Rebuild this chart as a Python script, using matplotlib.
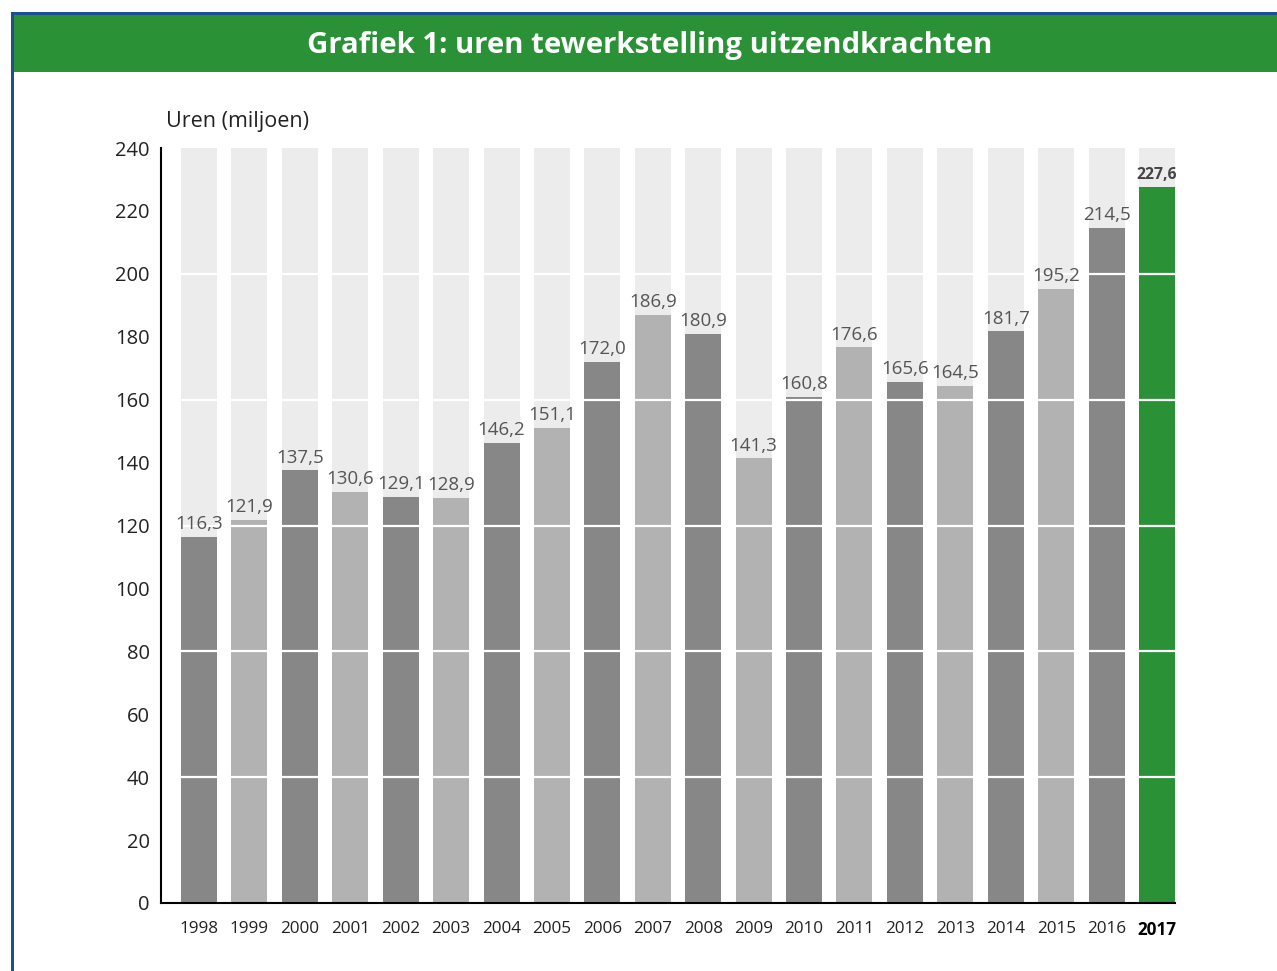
import matplotlib
matplotlib.use("Agg")
import matplotlib.pyplot as plt
from matplotlib.patches import Rectangle

years = ["1998", "1999", "2000", "2001", "2002", "2003", "2004", "2005", "2006", "2007",
         "2008", "2009", "2010", "2011", "2012", "2013", "2014", "2015", "2016", "2017"]
values = [116.3, 121.9, 137.5, 130.6, 129.1, 128.9, 146.2, 151.1, 172.0, 186.9,
          180.9, 141.3, 160.8, 176.6, 165.6, 164.5, 181.7, 195.2, 214.5, 227.6]
value_labels = ["116,3", "121,9", "137,5", "130,6", "129,1", "128,9", "146,2", "151,1", "172,0", "186,9",
                "180,9", "141,3", "160,8", "176,6", "165,6", "164,5", "181,7", "195,2", "214,5", "227,6"]
yticks = [0, 20, 40, 60, 80, 100, 120, 140, 160, 180, 200, 220, 240]
grid_levels = [40, 80, 120, 160, 200]
title = "Grafiek 1: uren tewerkstelling uitzendkrachten"
ylabel = "Uren (miljoen)"

DARK = "#878787"
LIGHT = "#b2b2b2"
GREEN = "#2a9136"
BG = "#ececec"
BLUE = "#1d4f97"

plt.rcParams['font.family'] = ['Open Sans', 'DejaVu Sans']

fig = plt.figure(figsize=(12.77, 9.71), dpi=100)
W, H = 1277, 971

# border and title bar
fig.patches.append(Rectangle((11 / W, 0), 3 / W, 1 - 13 / H, transform=fig.transFigure,
                             facecolor=BLUE, edgecolor="none", zorder=0))
fig.patches.append(Rectangle((11 / W, 1 - 15 / H), 1, 2.5 / H, transform=fig.transFigure,
                             facecolor=BLUE, edgecolor="none", zorder=0))
fig.patches.append(Rectangle((14 / W, 1 - 72 / H), 1, 57 / H, transform=fig.transFigure,
                             facecolor=GREEN, edgecolor="none", zorder=0))
fig.text(650 / W, 1 - 46 / H, title, color="white", fontsize=21.2, fontweight="bold",
         ha="center", va="center")

ax = fig.add_axes([161 / W, 1 - 903 / H, (1175 - 161) / W, (903 - 148) / H])
x = list(range(len(years)))
colors = [GREEN if i == len(years) - 1 else (DARK if i % 2 == 0 else LIGHT) for i in x]
bw = 0.714
ax.bar(x, [240] * len(x), width=bw, color=BG, zorder=0.5)
ax.bar(x, values, width=bw, color=colors, zorder=1)
for g in grid_levels:
    ax.axhline(g, color="white", lw=1.6, zorder=1.5)

ax.set_xlim(-0.754, len(years) - 1 + 0.357)
ax.set_ylim(0, 240)
ax.set_yticks(yticks)
ax.set_yticklabels([str(t) for t in yticks], fontsize=14.5, color="#222222")
ax.set_xticks(x)
ax.set_xticklabels(years, fontsize=12.3, color="#222222")
ax.get_xticklabels()[-1].set_fontweight("bold")
ax.get_xticklabels()[-1].set_color("black")
ax.tick_params(axis="y", length=0, pad=8)
ax.tick_params(axis="x", length=0, pad=13)
for s in ["top", "right"]:
    ax.spines[s].set_visible(False)
ax.spines["left"].set_linewidth(1.5)
ax.spines["bottom"].set_linewidth(1.5)
ax.spines["left"].set_zorder(3)
ax.spines["bottom"].set_zorder(3)

for i, (v, lab) in enumerate(zip(values, value_labels)):
    if i == len(values) - 1:
        ax.text(i, v + 1.2, lab, ha="center", va="bottom", fontsize=11.3, fontweight="bold",
                color="#444444", zorder=4)
    else:
        ax.text(i, v + 1.2, lab, ha="center", va="bottom", fontsize=13.5, color="#555555",
                zorder=4)

fig.text(166 / W, 1 - 122 / H, ylabel, fontsize=15.5, color="#222222", ha="left", va="center")

fig.savefig("out.png", dpi=100)
